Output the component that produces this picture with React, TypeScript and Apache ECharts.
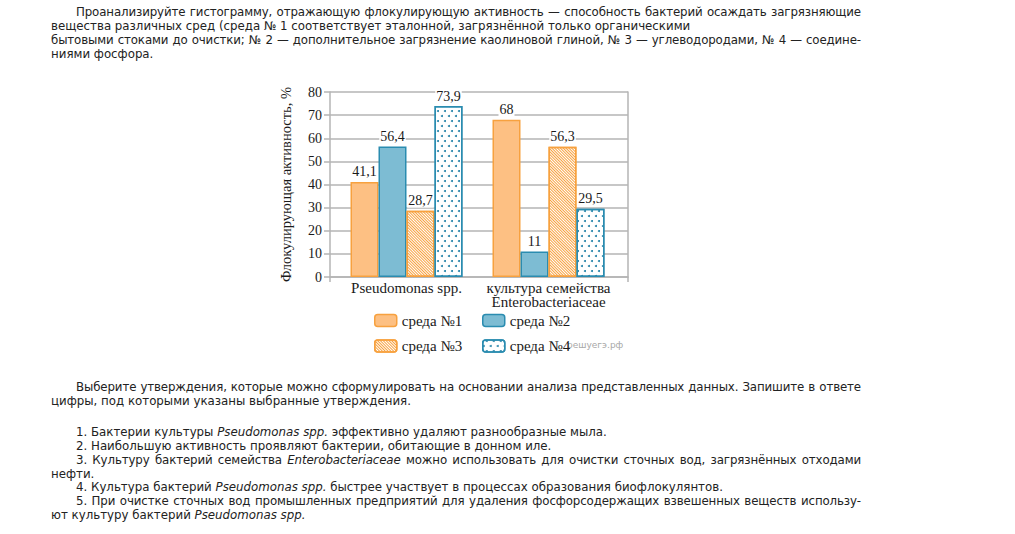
import React, { useEffect, useRef } from 'react';
import * as echarts from 'echarts';

// ---------- data ----------
const categories = ['Pseudomonas spp.', 'культура семейства\nEnterobacteriaceae'];
const seriesNames = ['среда №1', 'среда №2', 'среда №3', 'среда №4'];
const env1 = [41.1, 68];
const env2 = [56.4, 11];
const env3 = [28.7, 56.3];
const env4 = [73.9, 29.5];
const yMin = 0;
const yMax = 80;
const yStep = 10;
const yAxisName = 'Флокулирующая активность, %';
const watermark = 'решуегэ.рф';

// ---------- page text ----------
type Line = { t: string; indent?: boolean; justify?: boolean };
const para1: Line[] = [
  { t: 'Проанализируйте гистограмму, отражающую флокулирующую активность — способность бактерий осаждать загрязняющие', indent: true, justify: true },
  { t: 'вещества различных сред (среда №\u00a01 соответствует эталонной, загрязнённой только органическими' },
  { t: 'бытовыми стоками до очистки; №\u00a02 — дополнительное загрязнение каолиновой глиной, №\u00a03 — углеводородами, №\u00a04 — соедине-', justify: true },
  { t: 'ниями фосфора.' },
];
const para2: Line[] = [
  { t: 'Выберите утверждения, которые можно сформулировать на основании анализа представленных данных. Запишите в ответе', indent: true, justify: true },
  { t: 'цифры, под которыми указаны выбранные утверждения.' },
];
const para3: Line[] = [
  { t: '1. Бактерии культуры _Pseudomonas spp._ эффективно удаляют разнообразные мыла.', indent: true },
  { t: '2. Наибольшую активность проявляют бактерии, обитающие в донном иле.', indent: true },
  { t: '3. Культуру бактерий семейства _Enterobacteriaceae_ можно использовать для очистки сточных вод, загрязнённых отходами', indent: true, justify: true },
  { t: 'нефти.' },
  { t: '4. Культура бактерий _Pseudomonas spp._ быстрее участвует в процессах образования биофлокулянтов.', indent: true },
  { t: '5. При очистке сточных вод промышленных предприятий для удаления фосфорсодержащих взвешенных веществ использу-', indent: true, justify: true },
  { t: 'ют культуру бактерий _Pseudomonas spp._' },
];

const SERIF = '"Liberation Serif", "Times New Roman", serif';
const GRID_GRAY = '#b4b4b4';
const ORANGE_FILL = '#fdc083';
const ORANGE_LINE = '#f7a13f';
const BLUE_FILL = '#7dbcd3';
const BLUE_LINE = '#2a8cb0';
const DOT_BLUE = '#1f7fa6';

const fmt = (p: any) => String(p.value).replace('.', ',');

const valueLabel = {
  show: true,
  position: 'top' as const,
  distance: 3,
  formatter: fmt,
  fontFamily: SERIF,
  fontSize: 14,
  color: '#1a1a1a',
  backgroundColor: '#ffffff',
  padding: [0, 1, 0, 1],
};

const hatchDecal = {
  symbol: 'rect',
  symbolSize: 1,
  color: ORANGE_LINE,
  dashArrayX: [1, 0],
  dashArrayY: [1, 1],
  rotation: Math.PI / 4,
};

const dotDecal = {
  symbol: 'circle',
  symbolSize: 1,
  color: DOT_BLUE,
  dashArrayX: [[2, 5], [0, 3, 2, 2]],
  dashArrayY: [2, 3],
};

const legendBase = {
  orient: 'horizontal' as const,
  padding: 0,
  itemWidth: 22,
  itemHeight: 12,
  selectedMode: false,
  textStyle: { fontFamily: SERIF, fontSize: 15, color: '#1a1a1a' },
  itemStyle: { borderWidth: 1.5 },
};

const option: any = {
  animation: false,
  backgroundColor: 'transparent',
  grid: [
    { left: 330, top: 92, width: 298, height: 185 },
    { left: 335.5, top: 92, width: 284, height: 185 },
  ],
  xAxis: [
    {
      type: 'category',
      gridIndex: 0,
      data: [''],
      axisLine: { show: true, lineStyle: { color: GRID_GRAY, width: 1.5 } },
      axisTick: { show: true, length: 5, lineStyle: { color: GRID_GRAY, width: 1.5 } },
      axisLabel: { show: false },
    },
    {
      type: 'category',
      gridIndex: 1,
      data: categories,
      axisLine: { show: false },
      axisTick: { show: false },
      axisLabel: {
        fontFamily: SERIF,
        fontSize: 15,
        lineHeight: 14,
        color: '#1a1a1a',
        margin: 4,
        interval: 0,
      },
    },
  ],
  yAxis: [
    {
      type: 'value',
      gridIndex: 0,
      min: yMin,
      max: yMax,
      interval: yStep,
      name: yAxisName,
      nameLocation: 'middle',
      nameGap: 37,
      nameTextStyle: { fontFamily: SERIF, fontSize: 14.5, color: '#1a1a1a' },
      axisLine: { show: true, lineStyle: { color: GRID_GRAY, width: 1.5 } },
      axisTick: { show: true, length: 6, lineStyle: { color: GRID_GRAY, width: 1.5 } },
      axisLabel: { fontFamily: SERIF, fontSize: 14, color: '#1a1a1a', margin: 8 },
      splitLine: { show: true, lineStyle: { color: GRID_GRAY, width: 1.5 } },
    },
    {
      type: 'value',
      gridIndex: 0,
      position: 'right',
      min: yMin,
      max: yMax,
      interval: yStep,
      axisLine: { show: true, lineStyle: { color: GRID_GRAY, width: 1.5 } },
      axisTick: { show: false },
      axisLabel: { show: false },
      splitLine: { show: false },
    },
    {
      type: 'value',
      gridIndex: 1,
      min: yMin,
      max: yMax,
      interval: yStep,
      show: false,
    },
  ],
  legend: [
    { ...legendBase, data: [seriesNames[0]], left: 374, top: 313 },
    { ...legendBase, data: [seriesNames[1]], left: 482, top: 313 },
    { ...legendBase, data: [seriesNames[2]], left: 374, top: 338.5 },
    { ...legendBase, data: [seriesNames[3]], left: 482, top: 338.5 },
  ],
  graphic: [
    {
      type: 'text',
      left: 567,
      top: 340,
      style: { text: watermark, fontFamily: '"DejaVu Sans", sans-serif', fontSize: 9, fill: '#a8a8a8' },
    },
  ],
  series: [
    {
      name: seriesNames[0],
      type: 'bar',
      xAxisIndex: 1,
      yAxisIndex: 2,
      data: env1,
      barWidth: 28,
      barGap: '0%',
      itemStyle: { color: ORANGE_FILL, borderColor: ORANGE_LINE, borderWidth: 1.5 },
      label: valueLabel,
    },
    {
      name: seriesNames[1],
      type: 'bar',
      xAxisIndex: 1,
      yAxisIndex: 2,
      data: env2,
      barWidth: 28,
      barGap: '0%',
      itemStyle: { color: BLUE_FILL, borderColor: BLUE_LINE, borderWidth: 1.5 },
      label: valueLabel,
    },
    {
      name: seriesNames[2],
      type: 'bar',
      xAxisIndex: 1,
      yAxisIndex: 2,
      data: env3,
      barWidth: 28,
      barGap: '0%',
      itemStyle: { color: '#ffffff', borderColor: ORANGE_LINE, borderWidth: 1.5, decal: hatchDecal },
      label: valueLabel,
    },
    {
      name: seriesNames[3],
      type: 'bar',
      xAxisIndex: 1,
      yAxisIndex: 2,
      data: env4,
      barWidth: 28,
      barGap: '0%',
      itemStyle: { color: '#ffffff', borderColor: BLUE_LINE, borderWidth: 1.5, decal: dotDecal },
      label: valueLabel,
    },
  ],
};

function renderLine(line: Line, i: number) {
  const parts = line.t.split('_');
  return (
    <div
      key={i}
      style={{
        textIndent: line.indent ? 25 : 0,
        textAlign: 'justify',
        textAlignLast: line.justify ? 'justify' : 'left',
        letterSpacing: line.justify ? '-0.12px' : 0,
        whiteSpace: 'nowrap',
      } as React.CSSProperties}
    >
      {parts.map((p, j) => (j % 2 === 1 ? <i key={j}>{p}</i> : <span key={j}>{p}</span>))}
    </div>
  );
}

const textStyle: React.CSSProperties = {
  position: 'absolute',
  left: 51,
  width: 810,
  fontFamily: '"DejaVu Sans", Verdana, sans-serif',
  fontSize: 11.8,
  lineHeight: '13.85px',
  color: '#222',
};

export default function App() {
  const ref = useRef<HTMLDivElement>(null);
  useEffect(() => {
    const chart = echarts.init(ref.current as HTMLDivElement, null, { renderer: 'svg' });
    chart.setOption(option);
    return () => chart.dispose();
  }, []);
  return (
    <div style={{ position: 'absolute', left: 0, top: 0, width: 1015, height: 534, background: '#fff', overflow: 'hidden' }}>
      <div ref={ref} style={{ position: 'absolute', left: 0, top: 0, width: 1015, height: 534 }} />
      <div style={{ ...textStyle, top: 6 }}>{para1.map(renderLine)}</div>
      <div style={{ ...textStyle, top: 381 }}>{para2.map(renderLine)}</div>
      <div style={{ ...textStyle, top: 426 }}>{para3.map(renderLine)}</div>
    </div>
  );
}
